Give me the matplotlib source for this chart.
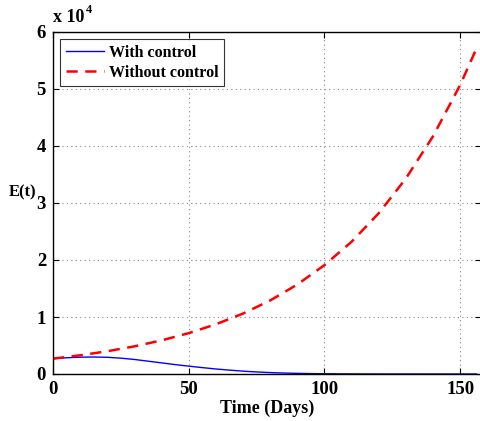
import matplotlib
matplotlib.use("Agg")
import matplotlib.pyplot as plt
import numpy as np

t_with = [0, 5, 10, 15, 20, 25, 30, 35, 40, 45, 50, 55, 60, 65, 70, 75, 80, 85, 90, 95, 100, 110, 120, 130, 140, 150, 156]
e_with = [2700, 2850, 2950, 2980, 2930, 2780, 2550, 2250, 1950, 1650, 1380, 1120, 880, 680, 500, 360, 250, 170, 110, 70, 45, 18, 7, 3, 1, 0.5, 0.2]

t_without = [0, 10, 20, 30, 40, 50, 60, 70, 80, 90, 100, 110, 120, 130, 140, 150, 156]
e_without = [2700, 3280, 3990, 4850, 5900, 7170, 8720, 10600, 12900, 15700, 19100, 23200, 28200, 34300, 41700, 50700, 57100]

xticks = [0, 50, 100, 150]
yticks = [0, 1, 2, 3, 4, 5, 6]

plt.rcParams['font.family'] = ['Liberation Serif', 'DejaVu Serif']
plt.rcParams['font.weight'] = 'bold'

fig = plt.figure(figsize=(4.81, 4.21), dpi=100)
ax = fig.add_axes([53/481, 1-374/421, 1-53/481 - 0.001, (374-32)/421])

scale = 1e4
ax.plot(t_with, np.array(e_with)/scale, color='#0000ff', lw=1.0, label='With control')
ax.plot(t_without, np.array(e_without)/scale, color='#ff0000', lw=1.8, ls=(0, (4.5, 3)), label='Without control')

ax.set_xlim(0, 157.5)
ax.set_ylim(0, 6)
ax.set_xticks(xticks)
ax.set_yticks(yticks)
ax.tick_params(direction='in', top=True, right=True, labelsize=13.5, length=4, width=0.8, pad=5)
for lbl in ax.get_xticklabels() + ax.get_yticklabels():
    lbl.set_fontweight('bold')
ax.grid(True, ls=(0, (1, 3)), color='#888888', lw=0.8)
for s in ax.spines.values():
    s.set_linewidth(1.0)

ax.set_xlabel('Time (Days)', fontsize=13, fontweight='bold', labelpad=1)
fig.text(23/481, 1-192/421, 'E(t)', fontsize=12, fontweight='bold', ha='center', va='center')
fig.text(53/481, 1-18/421, 'x 10', fontsize=13, fontweight='bold', ha='left', va='center')
fig.text(86/481, 1-10/421, '4', fontsize=9, fontweight='bold', ha='left', va='center')

leg = ax.legend(loc='upper left', fontsize=11.5, frameon=True, fancybox=False, edgecolor='black',
                borderaxespad=0.45, handlelength=2.4, labelspacing=0.25, borderpad=0.35, handletextpad=0.3)
leg.get_frame().set_linewidth(0.8)
for txt in leg.get_texts():
    txt.set_fontweight('bold')

fig.savefig('out.png', dpi=100)
